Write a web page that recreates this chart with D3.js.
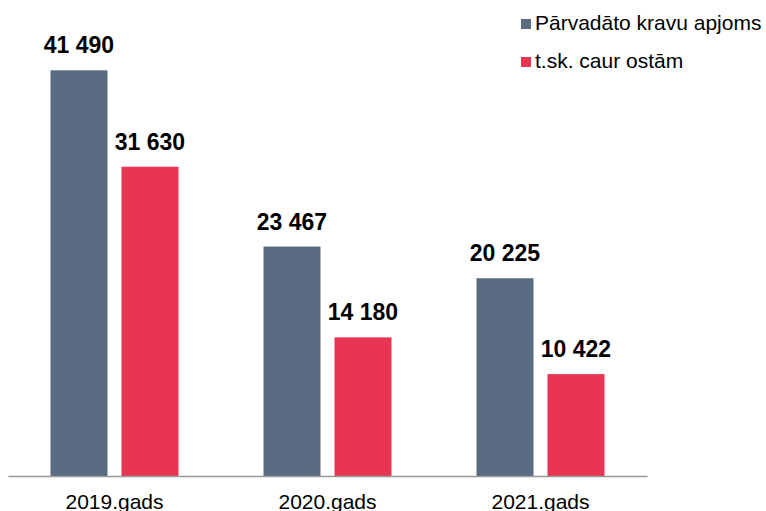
<!DOCTYPE html>
<html>
<head>
<meta charset="utf-8">
<script src="https://cdn.jsdelivr.net/npm/d3@7"></script>
<style>
  body { margin: 0; background: #fff; }
  svg { font-family: "Liberation Sans", Arial, sans-serif; }
</style>
</head>
<body>
<script>
/* Chart data */
var years = ["2019.gads", "2020.gads", "2021.gads"];
var seriesNames = ["Pārvadāto kravu apjoms", "t.sk. caur ostām"];
var total = [41490, 23467, 20225];
var viaPorts = [31630, 14180, 10422];
var colors = ["#596b80", "#e83553"];

var rows = years.map(function(y, i) {
  return { year: y, values: [total[i], viaPorts[i]] };
});

var svg = d3.select("body").append("svg")
    .attr("width", 766)
    .attr("height", 511);

var x0 = d3.scaleBand().domain(years).range([8, 647]);
var x1 = d3.scaleBand().domain([0, 1])
    .range([(x0.bandwidth() - 128) / 2, (x0.bandwidth() + 128) / 2])
    .paddingInner(14 / 71);
var y = d3.scaleLinear().domain([0, 45000]).range([476, 36]);

var fmt = function(v) { return d3.format(",")(v).replace(/,/g, " "); };

var groups = svg.selectAll(".group")
    .data(rows)
  .enter().append("g")
    .attr("class", "group")
    .attr("transform", function(d) { return "translate(" + x0(d.year) + ",0)"; });

groups.selectAll("rect")
    .data(function(d) { return d.values; })
  .enter().append("rect")
    .attr("x", function(d, i) { return x1(i); })
    .attr("width", x1.bandwidth())
    .attr("y", function(d) { return y(d); })
    .attr("height", function(d) { return y(0) - y(d); })
    .attr("fill", function(d, i) { return colors[i]; });

groups.selectAll(".val")
    .data(function(d) { return d.values; })
  .enter().append("text")
    .attr("class", "val")
    .attr("x", function(d, i) { return x1(i) + x1.bandwidth() / 2; })
    .attr("y", function(d) { return y(d) - 17; })
    .attr("text-anchor", "middle")
    .attr("font-size", 23)
    .attr("font-weight", "bold")
    .attr("fill", "#000")
    .text(fmt);

/* Baseline axis */
var axis = svg.append("g")
    .attr("transform", "translate(0," + y(0) + ")")
    .call(d3.axisBottom(x0).tickSize(0).tickPadding(18));
axis.select(".domain").attr("stroke", "#999").attr("stroke-width", 1.5);
axis.selectAll("text")
    .attr("font-size", 21)
    .attr("font-family", "Liberation Sans, Arial, sans-serif")
    .attr("fill", "#000");

/* Legend */
var legend = svg.selectAll(".legend")
    .data(seriesNames)
  .enter().append("g")
    .attr("class", "legend")
    .attr("transform", function(d, i) { return "translate(521," + (19 + i * 38) + ")"; });
legend.append("rect")
    .attr("width", 10).attr("height", 10)
    .attr("fill", function(d, i) { return colors[i]; });
legend.append("text")
    .attr("x", 14).attr("y", 11)
    .attr("font-size", 21)
    .attr("fill", "#000")
    .text(function(d) { return d; });
</script>
</body>
</html>
